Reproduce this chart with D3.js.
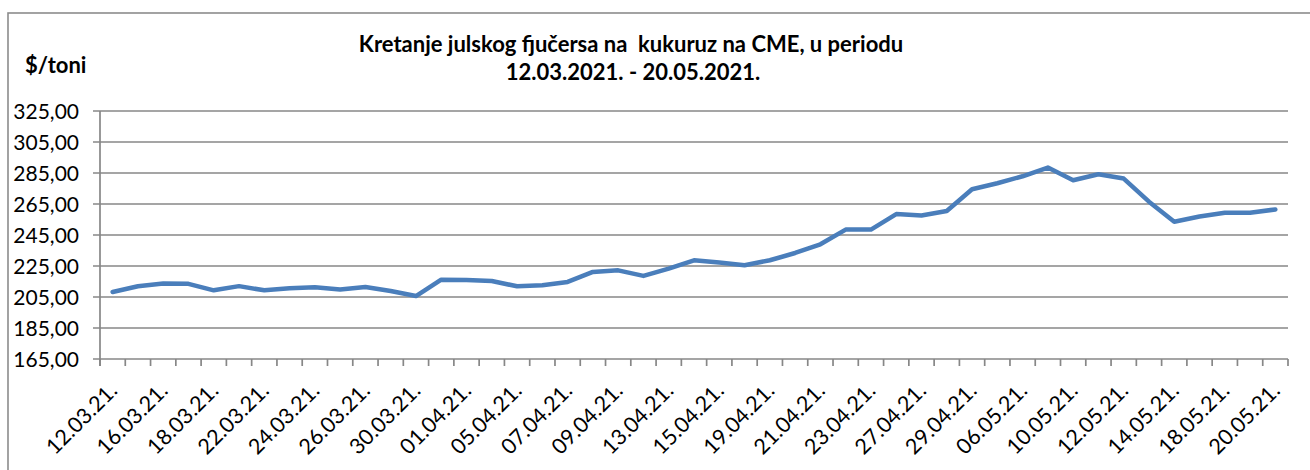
<!DOCTYPE html>
<html>
<head>
<meta charset="utf-8">
<script src="https://cdn.jsdelivr.net/npm/d3@7"></script>
<style>
  html, body { margin: 0; padding: 0; background: #fff; }
  svg { display: block; }
  text { font-family: Lato, "Open Sans", sans-serif; fill: #000; white-space: pre; }
</style>
</head>
<body>
<svg id="chart" width="1310" height="470"></svg>
<script>
const dates = ["12.03.21.","15.03.21.","16.03.21.","17.03.21.","18.03.21.","19.03.21.","22.03.21.","23.03.21.","24.03.21.","25.03.21.","26.03.21.","29.03.21.","30.03.21.","31.03.21.","01.04.21.","02.04.21.","05.04.21.","06.04.21.","07.04.21.","08.04.21.","09.04.21.","12.04.21.","13.04.21.","14.04.21.","15.04.21.","16.04.21.","19.04.21.","20.04.21.","21.04.21.","22.04.21.","23.04.21.","26.04.21.","27.04.21.","28.04.21.","29.04.21.","30.04.21.","06.05.21.","07.05.21.","10.05.21.","11.05.21.","12.05.21.","13.05.21.","14.05.21.","17.05.21.","18.05.21.","19.05.21.","20.05.21."];
const prices = [208.2,211.9,213.7,213.5,209.3,212.0,209.3,210.6,211.3,209.8,211.5,208.9,205.6,216.2,216.0,215.3,211.9,212.6,214.7,221.2,222.2,218.6,223.3,228.7,227.2,225.5,228.7,233.4,239.0,248.5,248.5,258.5,257.6,260.5,274.5,278.4,282.9,288.5,280.3,284.2,281.4,266.5,253.6,256.9,259.4,259.4,261.5];
const yTicks = [165,185,205,225,245,265,285,305,325];
const titleLines = ["Kretanje julskog fjučersa na  kukuruz na CME, u periodu","12.03.2021. - 20.05.2021."];
const yUnit = "$/toni";

const svg = d3.select("#chart");
const gridColor = "#878787";

// outer frame (right/bottom beyond the picture)
svg.append("rect").attr("x", 8).attr("y", 13).attr("width", 1320).attr("height", 480)
  .attr("fill", "none").attr("stroke", "#8c8c8c").attr("stroke-width", 1.6);

const x = d3.scaleBand().domain(dates).range([100, 1288]).padding(0);
const y = d3.scaleLinear().domain([165, 325]).range([359, 111]);
const cx = d => x(d) + x.bandwidth() / 2;

// gridlines + y ticks
svg.append("g").selectAll("line").data(yTicks).join("line")
  .attr("x1", 93).attr("x2", 1288)
  .attr("y1", d => y(d)).attr("y2", d => y(d))
  .attr("stroke", gridColor).attr("stroke-width", 1.7);

// y axis
svg.append("line").attr("x1", 100).attr("x2", 100).attr("y1", y(325)).attr("y2", y(165) + 7)
  .attr("stroke", gridColor).attr("stroke-width", 1.7);

// y tick labels
svg.append("g").selectAll("text").data(yTicks).join("text")
  .attr("x", 79).attr("y", d => y(d)).attr("dy", "0.36em")
  .attr("text-anchor", "end").style("font-size", "21px")
  .text(d => d3.format(".2f")(d).replace(".", ","));

// x ticks at category boundaries
const bounds = dates.map(d => x(d)).concat([1288]);
svg.append("g").selectAll("line").data(bounds).join("line")
  .attr("x1", d => d).attr("x2", d => d)
  .attr("y1", y(165)).attr("y2", y(165) + 7)
  .attr("stroke", gridColor).attr("stroke-width", 1.7);

// x labels (every second category)
svg.append("g").selectAll("text").data(dates.filter((d, i) => i % 2 === 0)).join("text")
  .attr("transform", d => `translate(${cx(d) + 6},392) rotate(-45)`)
  .attr("text-anchor", "end").style("font-size", "21.5px")
  .text(d => d);

// line
const line = d3.line().x((d, i) => cx(dates[i])).y(d => y(d));
svg.append("path").datum(prices)
  .attr("d", line).attr("fill", "none")
  .attr("stroke", "#4a7ebb").attr("stroke-width", 4.5)
  .attr("stroke-linejoin", "round").attr("stroke-linecap", "round");

// title
svg.append("text").attr("x", 631).attr("y", 52).attr("text-anchor", "middle")
  .style("font-size", "22px").style("font-weight", "bold").text(titleLines[0]);
svg.append("text").attr("x", 633).attr("y", 80).attr("text-anchor", "middle")
  .style("font-size", "22px").style("font-weight", "bold").text(titleLines[1]);

// unit label
svg.append("text").attr("x", 25).attr("y", 73)
  .style("font-size", "22px").style("font-weight", "bold").text(yUnit);
</script>
</body>
</html>
